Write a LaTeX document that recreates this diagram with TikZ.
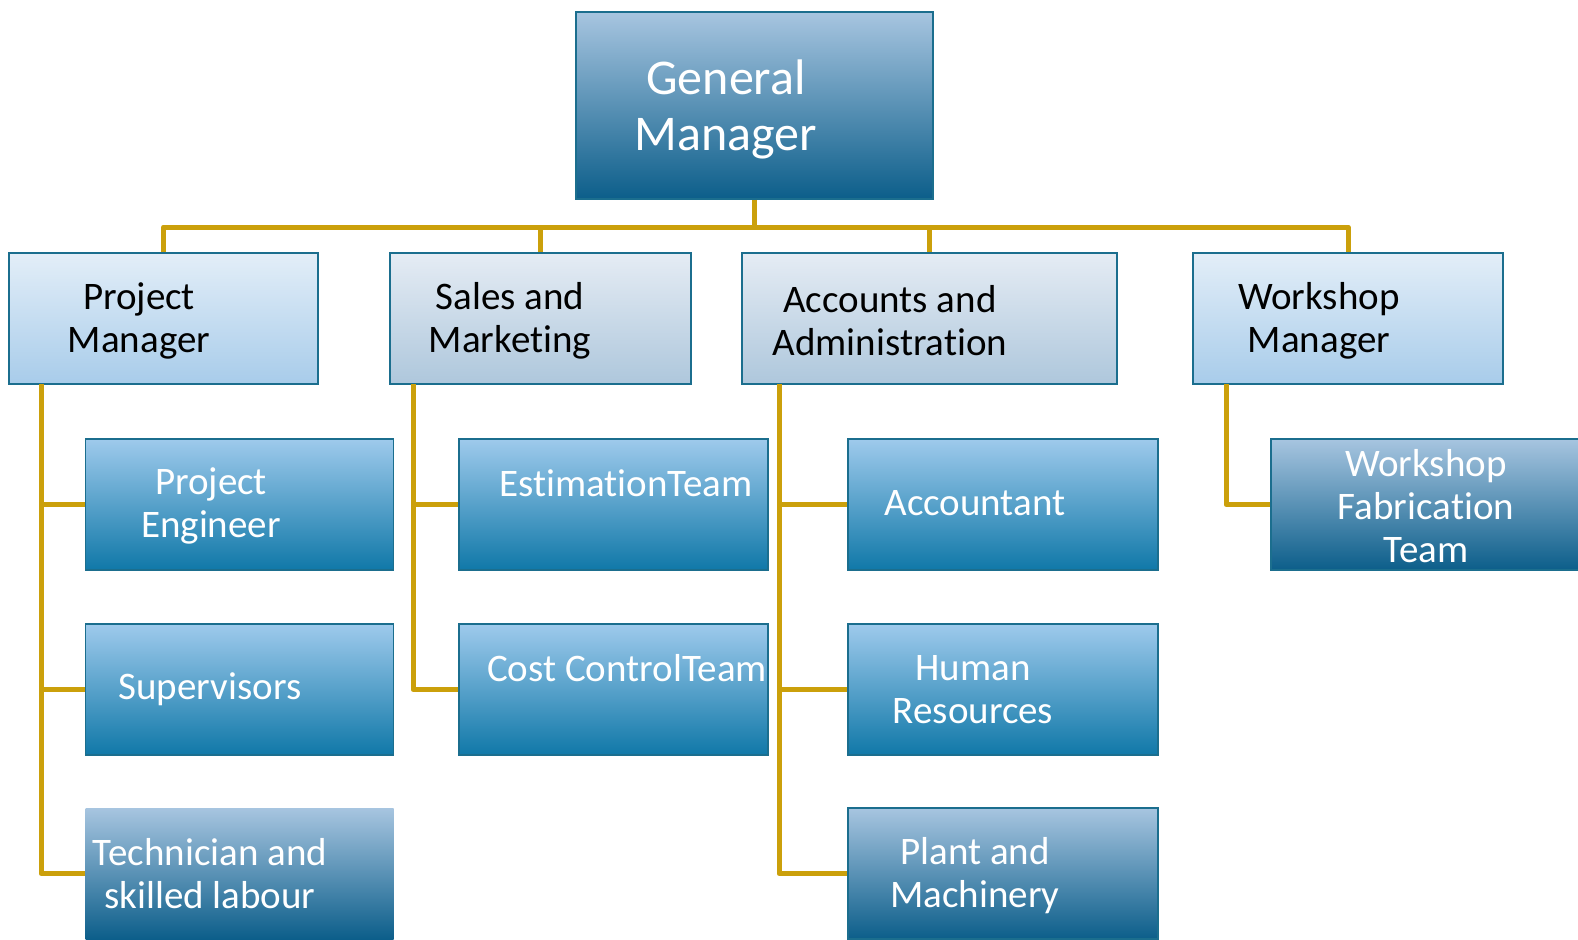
\documentclass[tikz,border=0pt]{standalone}
\usepackage{fontspec}
\setmainfont{Carlito}[Ligatures={NoCommon}]
\usepackage{tikz}
\usetikzlibrary{positioning}

\definecolor{gmtop}{HTML}{A7C5E0}
\definecolor{gmmid}{HTML}{86A8C6}
\definecolor{gmbot}{HTML}{0C5E8A}
\definecolor{bltop}{HTML}{9ECAEC}
\definecolor{blmid}{HTML}{64A3CE}
\definecolor{blbot}{HTML}{1078A8}
\definecolor{lttop}{HTML}{E3EEF8}
\definecolor{ltbot}{HTML}{A8CCEA}
\definecolor{gytop}{HTML}{E5ECF4}
\definecolor{gybot}{HTML}{AEC7DC}
\definecolor{boxline}{HTML}{1B6E8E}
\definecolor{gold}{HTML}{CBA00B}

\begin{document}
\begin{tikzpicture}
	[x=1pt,y=-1pt,
	every node/.style={rectangle,inner sep=0pt},
	gmbox/.style={draw=boxline,line width=1.5pt,top color=gmtop,middle color=gmmid,bottom color=gmbot,minimum width=357pt,minimum height=187pt},
	headbox/.style={draw=boxline,line width=1.5pt,top color=lttop,bottom color=ltbot,minimum width=309pt,minimum height=131pt},
	greybox/.style={headbox,top color=gytop,bottom color=gybot},
	teambox/.style={draw=boxline,line width=1.5pt,top color=bltop,middle color=blmid,bottom color=blbot,minimum width=308pt,minimum height=131pt},
	darkbox/.style={teambox,top color=gmtop,middle color=gmmid,bottom color=gmbot},
	headtext/.style={align=center,text=black,font=\fontsize{39}{43}\selectfont},
	teamtext/.style={headtext,text=white},
	gmtext/.style={align=center,text=white,font=\fontsize{50}{56}\selectfont},
	link/.style={draw=gold,line width=5pt,line join=round}]
	\useasboundingbox (0,0) rectangle (1578,939);
	\clip (0,0) rectangle (1578,939);

	% boxes
	\node[gmbox] (gm) at (754.5,105.5) {};
	\node[headbox] (pm) at (163.5,318.5) {};
	\node[greybox,minimum width=301pt] (sm) at (540.5,318.5) {};
	\node[greybox,minimum width=375pt] (aa) at (929.5,318.5) {};
	\node[headbox,minimum width=310pt] (wm) at (1348,318.5) {};

	\node[teambox] (pe) at (239.5,504.5) {};
	\node[teambox] (sup) at (239.5,689.5) {};
	\node[darkbox,draw=none] (tech) at (239.5,873.5) {};
	\node[teambox,minimum width=309pt] (est) at (613.5,504.5) {};
	\node[teambox,minimum width=309pt] (cc) at (613.5,689.5) {};
	\node[teambox,minimum width=310pt] (acc) at (1003,504.5) {};
	\node[teambox,minimum width=310pt] (hr) at (1003,689.5) {};
	\node[darkbox,minimum width=310pt] (plant) at (1003,873.5) {};
	\node[darkbox,minimum width=309pt] (wft) at (1425.5,504.5) {};

	% connectors
	\coordinate (bus) at (0,227);
	\coordinate (pmx) at (41,384);
	\coordinate (smx) at (413,384);
	\coordinate (aax) at (779,384);
	\coordinate (wmx) at (1226,384);
	\foreach \to in {pm,sm,aa,wm}
	\draw[link] (gm.south) -- (gm.south |- bus) -| (\to.north);
	\foreach \from/\to in
	{pmx/pe, pmx/sup, pmx/tech, smx/est, smx/cc, aax/acc, aax/hr, aax/plant, wmx/wft}
	\draw[link] (\from) |- (\to.west);

	% texts
	\node[gmtext] (gm-t) at (726,109) {General\\Manager};
	\node[headtext] (pm-t) at (139,321) {Project\\Manager};
	\node[headtext] (sm-t) at (510,321) {Sales and\\Marketing};
	\node[headtext] (aa-t) at (890,321) {Accounts and\\Administration};
	\node[headtext] (wm-t) at (1319,321) {Workshop\\Manager};
	\node[teamtext] (pe-t) at (211,506) {Project\\Engineer};
	\node[teamtext] (sup-t) at (210,689) {Supervisors};
	\node[teamtext] (tech-t) at (210,874) {Technician and\\skilled labour};
	\node[teamtext] (est-t) at (626,483) {EstimationTeam};
	\node[teamtext] (cc-t) at (627,668) {Cost ControlTeam};
	\node[teamtext] (acc-t) at (975,503) {Accountant};
	\node[teamtext] (hr-t) at (973,690) {Human\\Resources};
	\node[teamtext] (plant-t) at (975,876) {Plant and\\Machinery};
	\node[teamtext] (wft-t) at (1426,506) {Workshop\\Fabrication\\Team};
\end{tikzpicture}
\end{document}
